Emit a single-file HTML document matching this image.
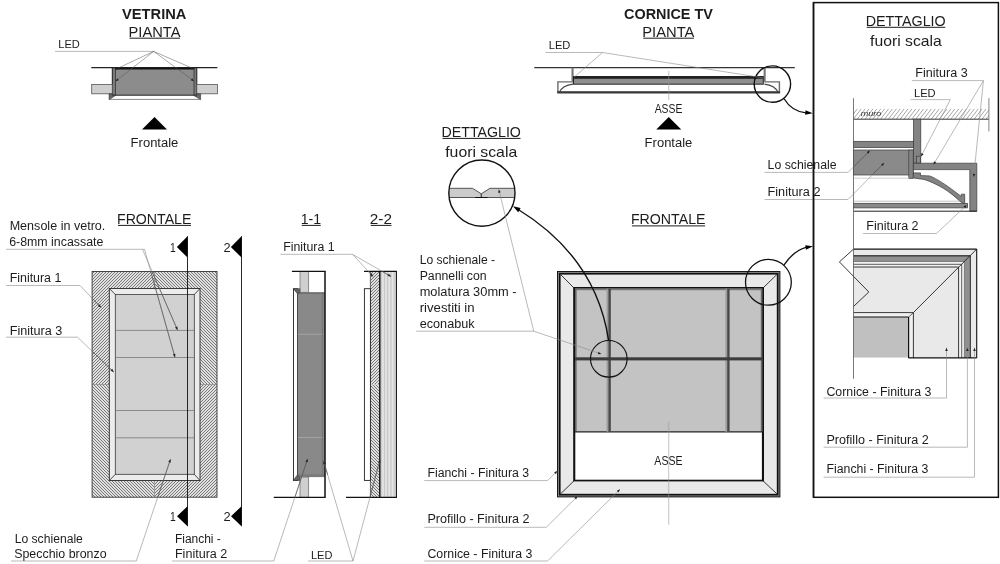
<!DOCTYPE html>
<html><head><meta charset="utf-8"><title>Vetrina / Cornice TV</title>
<style>
html,body{margin:0;padding:0;background:#fff;}
body{width:1000px;height:564px;overflow:hidden;}
svg{display:block;font-family:"Liberation Sans",sans-serif;will-change:transform;filter:grayscale(1);}
</style></head><body>
<svg width="1000" height="564" viewBox="0 0 1000 564">
<defs>
<pattern id="hA" width="3" height="3" patternUnits="userSpaceOnUse"><rect width="3" height="3" fill="#e1e1e1"/><path d="M-1,1 L1,-1 M0,3 L3,0 M2,4 L4,2" stroke="#666" stroke-width="0.85"/></pattern>
<pattern id="hB" width="3" height="3" patternUnits="userSpaceOnUse"><rect width="3" height="3" fill="#e1e1e1"/><path d="M-1,2 L1,4 M0,0 L3,3 M2,-1 L4,1" stroke="#666" stroke-width="0.85"/></pattern>
<pattern id="hW" width="3.4" height="3.4" patternUnits="userSpaceOnUse"><rect width="3.4" height="3.4" fill="#fff"/><path d="M-0.85,0.85 L0.85,-0.85 M0,3.4 L3.4,0 M2.55,4.25 L4.25,2.55" stroke="#555" stroke-width="0.8"/></pattern>
<pattern id="vS" width="3.2" height="4" patternUnits="userSpaceOnUse"><rect width="3.2" height="4" fill="#dcdcdc"/><rect x="0" width="1" height="4" fill="#c6c6c6"/><rect x="1.8" width="0.8" height="4" fill="#ececec"/></pattern>
</defs>
<rect width="1000" height="564" fill="#fff"/>

<text x="122.02" y="19.00" font-size="14" textLength="64.40" lengthAdjust="spacingAndGlyphs" fill="#1c1c1c" font-weight="bold">VETRINA</text>
<text x="128.52" y="36.50" font-size="14" textLength="51.90" lengthAdjust="spacingAndGlyphs" fill="#1c1c1c">PIANTA</text>
<line x1="129.50" y1="38.20" x2="180.00" y2="38.20" stroke="#1c1c1c" stroke-width="1"/>
<text x="58.20" y="47.60" font-size="11.5" textLength="21.65" lengthAdjust="spacingAndGlyphs" fill="#1c1c1c">LED</text>
<rect x="112.30" y="67.70" width="84.50" height="27.50" fill="#8c8c8c"/>
<rect x="112.30" y="67.70" width="3.20" height="27.50" fill="#7a7a7a"/>
<rect x="194.00" y="67.70" width="2.80" height="27.50" fill="#7a7a7a"/>
<line x1="112.30" y1="67.70" x2="112.30" y2="95.20" stroke="#222" stroke-width="1" />
<line x1="196.80" y1="67.70" x2="196.80" y2="95.20" stroke="#222" stroke-width="1" />
<line x1="115.50" y1="68.00" x2="115.50" y2="95.20" stroke="#333" stroke-width="0.8" />
<line x1="194.00" y1="68.00" x2="194.00" y2="95.20" stroke="#333" stroke-width="0.8" />
<line x1="112.30" y1="95.20" x2="196.80" y2="95.20" stroke="#222" stroke-width="1" />
<rect x="91.70" y="84.50" width="20.60" height="9.30" fill="#cfcfcf" stroke="#555" stroke-width="0.8"/>
<rect x="196.80" y="84.50" width="20.60" height="9.30" fill="#cfcfcf" stroke="#555" stroke-width="0.8"/>
<polygon points="109.10,93.80 112.30,93.80 112.30,95.40 115.60,95.40 109.10,99.60" fill="#666" stroke="#333" stroke-width="0.6" stroke-linejoin="miter"/>
<polygon points="200.60,93.80 196.80,93.80 196.80,95.40 193.70,95.40 200.60,99.60" fill="#666" stroke="#333" stroke-width="0.6" stroke-linejoin="miter"/>
<line x1="109.10" y1="99.40" x2="200.60" y2="99.40" stroke="#555" stroke-width="0.7" />
<line x1="91.30" y1="67.70" x2="217.40" y2="67.70" stroke="#222" stroke-width="1.2" />
<line x1="115.00" y1="68.60" x2="194.30" y2="68.60" stroke="#111" stroke-width="1.6" />
<polygon points="154.50,117.00 142.00,129.50 167.00,129.50" fill="#000"/>
<text x="130.62" y="147.00" font-size="12.5" textLength="47.75" lengthAdjust="spacingAndGlyphs" fill="#1c1c1c">Frontale</text>
<text x="117.02" y="223.75" font-size="14" textLength="74.40" lengthAdjust="spacingAndGlyphs" fill="#1c1c1c">FRONTALE</text>
<line x1="118.00" y1="225.40" x2="191.00" y2="225.40" stroke="#1c1c1c" stroke-width="1"/>
<text x="9.66" y="230.00" font-size="12" textLength="95.70" lengthAdjust="spacingAndGlyphs" fill="#1c1c1c">Mensole in vetro.</text>
<text x="9.16" y="245.50" font-size="12" textLength="94.20" lengthAdjust="spacingAndGlyphs" fill="#1c1c1c">6-8mm incassate</text>
<text x="9.66" y="281.75" font-size="12" textLength="51.70" lengthAdjust="spacingAndGlyphs" fill="#1c1c1c">Finitura 1</text>
<text x="9.66" y="334.50" font-size="12" textLength="52.70" lengthAdjust="spacingAndGlyphs" fill="#1c1c1c">Finitura 3</text>
<rect x="92.10" y="271.50" width="62.40" height="113.00" fill="url(#hA)"/>
<rect x="154.50" y="271.50" width="62.50" height="113.00" fill="url(#hB)"/>
<rect x="92.10" y="384.50" width="62.40" height="112.70" fill="url(#hB)"/>
<rect x="154.50" y="384.50" width="62.50" height="112.70" fill="url(#hA)"/>
<line x1="154.50" y1="271.50" x2="154.50" y2="497.20" stroke="#777" stroke-width="0.6" />
<line x1="92.10" y1="384.50" x2="217.00" y2="384.50" stroke="#777" stroke-width="0.6" />
<rect x="92.10" y="271.50" width="124.90" height="225.70" fill="none" stroke="#333" stroke-width="0.9"/>
<rect x="109.30" y="288.50" width="90.70" height="192.00" fill="#ececec" stroke="#2a2a2a" stroke-width="0.9"/>
<rect x="115.30" y="294.50" width="79.00" height="179.80" fill="#d1d1d1" stroke="#3a3a3a" stroke-width="0.8"/>
<line x1="109.30" y1="288.50" x2="115.30" y2="294.50" stroke="#222" stroke-width="0.8" />
<line x1="200.00" y1="288.50" x2="194.30" y2="294.50" stroke="#222" stroke-width="0.8" />
<line x1="109.30" y1="480.50" x2="115.30" y2="474.30" stroke="#222" stroke-width="0.8" />
<line x1="200.00" y1="480.50" x2="194.30" y2="474.30" stroke="#222" stroke-width="0.8" />
<line x1="115.30" y1="330.40" x2="194.30" y2="330.40" stroke="#777" stroke-width="0.8" />
<line x1="115.30" y1="357.50" x2="194.30" y2="357.50" stroke="#777" stroke-width="0.8" />
<line x1="115.30" y1="410.50" x2="194.30" y2="410.50" stroke="#777" stroke-width="0.8" />
<line x1="115.30" y1="437.80" x2="194.30" y2="437.80" stroke="#777" stroke-width="0.8" />
<line x1="187.50" y1="236.20" x2="187.50" y2="526.20" stroke="#111" stroke-width="0.9" />
<polygon points="176.90,246.90 187.50,236.20 187.50,257.60" fill="#000"/>
<polygon points="177.00,516.25 187.50,506.25 187.50,526.25" fill="#000"/>
<text x="169.91" y="251.90" font-size="12" textLength="5.75" lengthAdjust="spacingAndGlyphs" fill="#1c1c1c">1</text>
<text x="169.91" y="520.60" font-size="12" textLength="5.75" lengthAdjust="spacingAndGlyphs" fill="#1c1c1c">1</text>
<line x1="241.50" y1="236.20" x2="241.50" y2="526.20" stroke="#111" stroke-width="0.9" />
<polygon points="230.90,246.90 241.50,236.20 241.50,257.60" fill="#000"/>
<polygon points="231.00,516.25 241.50,506.25 241.50,526.25" fill="#000"/>
<text x="223.41" y="251.90" font-size="12" textLength="7.15" lengthAdjust="spacingAndGlyphs" fill="#1c1c1c">2</text>
<text x="223.41" y="520.60" font-size="12" textLength="7.15" lengthAdjust="spacingAndGlyphs" fill="#1c1c1c">2</text>
<text x="14.66" y="542.50" font-size="12" textLength="68.20" lengthAdjust="spacingAndGlyphs" fill="#1c1c1c">Lo schienale</text>
<text x="14.16" y="558.00" font-size="12" textLength="92.45" lengthAdjust="spacingAndGlyphs" fill="#1c1c1c">Specchio bronzo</text>
<text x="174.91" y="542.50" font-size="12" textLength="45.95" lengthAdjust="spacingAndGlyphs" fill="#1c1c1c">Fianchi -</text>
<text x="174.91" y="558.00" font-size="12" textLength="52.45" lengthAdjust="spacingAndGlyphs" fill="#1c1c1c">Finitura 2</text>
<text x="300.77" y="223.75" font-size="14" textLength="20.40" lengthAdjust="spacingAndGlyphs" fill="#1c1c1c">1-1</text>
<line x1="301.75" y1="225.40" x2="320.75" y2="225.40" stroke="#1c1c1c" stroke-width="1"/>
<text x="369.77" y="223.75" font-size="14" textLength="22.15" lengthAdjust="spacingAndGlyphs" fill="#1c1c1c">2-2</text>
<line x1="370.75" y1="225.40" x2="391.50" y2="225.40" stroke="#1c1c1c" stroke-width="1"/>
<text x="283.16" y="250.75" font-size="12" textLength="51.45" lengthAdjust="spacingAndGlyphs" fill="#1c1c1c">Finitura 1</text>
<rect x="300.00" y="271.50" width="8.70" height="20.80" fill="#cfcfcf" stroke="#666" stroke-width="0.7"/>
<rect x="300.00" y="477.00" width="8.70" height="20.30" fill="#cfcfcf" stroke="#666" stroke-width="0.7"/>
<rect x="293.50" y="288.80" width="4.00" height="191.60" fill="#fff" stroke="#222" stroke-width="0.9"/>
<rect x="297.50" y="292.50" width="27.50" height="182.50" fill="#898989"/>
<rect x="297.50" y="292.30" width="27.50" height="1.50" fill="#6a6a6a"/>
<rect x="297.50" y="474.30" width="27.50" height="2.80" fill="#7a7a7a"/>
<polygon points="293.30,288.70 299.80,288.70 299.80,292.40 297.50,293.80" fill="#666" stroke="#333" stroke-width="0.6" stroke-linejoin="miter"/>
<polygon points="293.30,480.40 299.80,480.40 299.80,477.00 297.50,474.80" fill="#666" stroke="#333" stroke-width="0.6" stroke-linejoin="miter"/>
<line x1="297.50" y1="293.00" x2="297.50" y2="475.00" stroke="#444" stroke-width="0.8" />
<line x1="297.80" y1="334.30" x2="324.00" y2="334.30" stroke="#a8a8a8" stroke-width="0.8" />
<line x1="297.80" y1="437.50" x2="324.00" y2="437.50" stroke="#a8a8a8" stroke-width="0.8" />
<line x1="322.50" y1="292.50" x2="322.50" y2="475.00" stroke="#777" stroke-width="1.2" />
<line x1="325.00" y1="271.30" x2="325.00" y2="497.40" stroke="#111" stroke-width="1.5" />
<line x1="291.90" y1="271.40" x2="325.60" y2="271.40" stroke="#111" stroke-width="1.2" />
<line x1="273.75" y1="497.40" x2="325.60" y2="497.40" stroke="#111" stroke-width="1.2" />
<rect x="370.40" y="271.50" width="8.80" height="113.00" fill="url(#hA)"/>
<rect x="370.40" y="384.50" width="8.80" height="112.80" fill="url(#hB)"/>
<line x1="370.40" y1="271.50" x2="370.40" y2="497.30" stroke="#444" stroke-width="0.8" />
<rect x="380.30" y="271.50" width="16.10" height="225.80" fill="url(#vS)"/>
<rect x="379.00" y="271.50" width="1.60" height="225.80" fill="#222"/>
<line x1="396.40" y1="271.30" x2="396.40" y2="497.40" stroke="#111" stroke-width="1.1" />
<rect x="364.40" y="288.70" width="6.00" height="191.70" fill="#fff" stroke="#222" stroke-width="0.9"/>
<line x1="364.00" y1="271.40" x2="396.90" y2="271.40" stroke="#111" stroke-width="1.2" />
<line x1="346.00" y1="497.40" x2="396.90" y2="497.40" stroke="#111" stroke-width="1.2" />
<text x="310.94" y="558.50" font-size="11.5" textLength="21.40" lengthAdjust="spacingAndGlyphs" fill="#1c1c1c">LED</text>
<text x="441.52" y="136.75" font-size="14" textLength="79.40" lengthAdjust="spacingAndGlyphs" fill="#1c1c1c">DETTAGLIO</text>
<line x1="442.50" y1="138.40" x2="520.50" y2="138.40" stroke="#1c1c1c" stroke-width="1"/>
<text x="445.24" y="156.75" font-size="14.5" textLength="71.95" lengthAdjust="spacingAndGlyphs" fill="#1c1c1c">fuori scala</text>
<clipPath id="cpD"><circle cx="481.9" cy="193.1" r="33.1"/></clipPath>
<g clip-path="url(#cpD)">
<polygon points="440.00,188.30 472.50,188.30 481.25,193.80 490.00,188.30 520.00,188.30 520.00,197.50 440.00,197.50" fill="#cbcbcb" stroke="#444" stroke-width="0.9" stroke-linejoin="miter"/>
<line x1="481.25" y1="193.80" x2="481.25" y2="197.50" stroke="#222" stroke-width="1" />
<line x1="475.00" y1="197.50" x2="487.50" y2="197.50" stroke="#111" stroke-width="1.2" />
</g>
<circle cx="481.9" cy="193.1" r="33.1" fill="none" stroke="#111" stroke-width="1.4"/>
<text x="419.66" y="263.50" font-size="12" textLength="75.40" lengthAdjust="spacingAndGlyphs" fill="#1c1c1c">Lo schienale -</text>
<text x="419.66" y="279.50" font-size="12" textLength="66.95" lengthAdjust="spacingAndGlyphs" fill="#1c1c1c">Pannelli con</text>
<text x="419.66" y="295.60" font-size="12" textLength="96.95" lengthAdjust="spacingAndGlyphs" fill="#1c1c1c">molatura 30mm -</text>
<text x="419.66" y="311.70" font-size="12" textLength="54.95" lengthAdjust="spacingAndGlyphs" fill="#1c1c1c">rivestiti in</text>
<text x="419.66" y="327.60" font-size="12" textLength="54.95" lengthAdjust="spacingAndGlyphs" fill="#1c1c1c">econabuk</text>
<text x="624.02" y="19.00" font-size="14" textLength="88.90" lengthAdjust="spacingAndGlyphs" fill="#1c1c1c" font-weight="bold">CORNICE TV</text>
<text x="642.27" y="36.50" font-size="14" textLength="52.15" lengthAdjust="spacingAndGlyphs" fill="#1c1c1c">PIANTA</text>
<line x1="643.25" y1="38.20" x2="694.00" y2="38.20" stroke="#1c1c1c" stroke-width="1"/>
<text x="548.70" y="48.80" font-size="11.5" textLength="21.65" lengthAdjust="spacingAndGlyphs" fill="#1c1c1c">LED</text>
<line x1="534.25" y1="67.60" x2="794.80" y2="67.60" stroke="#333" stroke-width="1.1" />
<rect x="571.50" y="67.60" width="2.10" height="14.00" fill="#777"/>
<rect x="763.60" y="67.60" width="2.10" height="14.00" fill="#777"/>
<polyline points="573.00,81.90 557.90,81.90 557.90,92.50" fill="none" stroke="#6a6a6a" stroke-width="1.4" stroke-linejoin="miter"/>
<polyline points="764.40,81.90 779.40,81.90 779.40,92.50" fill="none" stroke="#6a6a6a" stroke-width="1.4" stroke-linejoin="miter"/>
<path d="M573,84.2 C566,85 561.5,87.5 559.3,92.5" fill="none" stroke="#4a4a4a" stroke-width="1.3"/>
<path d="M764.4,84.2 C771.4,85 775.9,87.5 778.1,92.5" fill="none" stroke="#4a4a4a" stroke-width="1.3"/>
<rect x="573.00" y="76.00" width="190.80" height="8.70" fill="#222"/>
<rect x="574.00" y="78.80" width="188.80" height="4.90" fill="#8e8e8e"/>
<rect x="557.20" y="91.20" width="222.90" height="2.30" fill="#3a3a3a"/>
<line x1="668.75" y1="70.80" x2="668.75" y2="100.00" stroke="#999" stroke-width="0.6" />
<text x="654.66" y="113.00" font-size="12" textLength="27.70" lengthAdjust="spacingAndGlyphs" fill="#1c1c1c">ASSE</text>
<polygon points="668.75,117.00 656.25,129.50 681.25,129.50" fill="#000"/>
<text x="644.62" y="147.00" font-size="12.5" textLength="47.75" lengthAdjust="spacingAndGlyphs" fill="#1c1c1c">Frontale</text>
<circle cx="772.4" cy="84.1" r="18.2" fill="none" stroke="#111" stroke-width="1.4"/>
<path d="M783.9,98.5 C789,107 797,112 806,112.8" fill="none" stroke="#111" stroke-width="1.3"/>
<polygon points="812.80,113.20 805.13,114.85 805.52,110.27" fill="#000"/>
<text x="630.92" y="224.20" font-size="14" textLength="74.60" lengthAdjust="spacingAndGlyphs" fill="#1c1c1c">FRONTALE</text>
<line x1="631.90" y1="225.90" x2="705.10" y2="225.90" stroke="#1c1c1c" stroke-width="1"/>
<rect x="557.00" y="271.00" width="223.40" height="226.40" fill="#1a1a1a"/>
<rect x="558.00" y="272.00" width="221.40" height="224.40" fill="#808080"/>
<rect x="559.00" y="273.00" width="219.40" height="222.40" fill="#111"/>
<rect x="560.60" y="274.60" width="216.20" height="219.20" fill="#e9e9e9"/>
<line x1="560.60" y1="274.60" x2="574.00" y2="288.00" stroke="#222" stroke-width="0.9" />
<line x1="776.80" y1="274.60" x2="763.00" y2="288.00" stroke="#222" stroke-width="0.9" />
<line x1="560.60" y1="493.80" x2="574.00" y2="480.80" stroke="#222" stroke-width="0.9" />
<line x1="776.80" y1="493.80" x2="763.00" y2="480.80" stroke="#222" stroke-width="0.9" />
<rect x="573.20" y="287.00" width="190.80" height="194.40" fill="#111"/>
<rect x="575.30" y="288.80" width="186.60" height="190.90" fill="#fff"/>
<rect x="575.00" y="288.80" width="187.20" height="143.00" fill="#c3c3c3"/>
<rect x="575.00" y="288.80" width="187.20" height="1.40" fill="#777"/>
<rect x="575.00" y="288.80" width="1.60" height="143.00" fill="#666"/>
<rect x="760.80" y="288.80" width="1.40" height="143.00" fill="#666"/>
<line x1="575.00" y1="431.80" x2="762.20" y2="431.80" stroke="#222" stroke-width="1.2" />
<rect x="606.60" y="288.80" width="1.80" height="143.00" fill="#9c9c9c"/>
<rect x="608.40" y="288.80" width="2.40" height="143.00" fill="#484848"/>
<rect x="725.40" y="288.80" width="1.80" height="143.00" fill="#9c9c9c"/>
<rect x="727.20" y="288.80" width="2.40" height="143.00" fill="#484848"/>
<rect x="575.00" y="357.30" width="187.20" height="3.10" fill="#3c3c3c"/>
<line x1="668.75" y1="422.00" x2="668.75" y2="524.80" stroke="#999" stroke-width="0.6" />
<text x="654.36" y="464.50" font-size="12" textLength="28.20" lengthAdjust="spacingAndGlyphs" fill="#1c1c1c">ASSE</text>
<circle cx="608.8" cy="358.8" r="18.3" fill="none" stroke="#111" stroke-width="1.1"/>
<circle cx="768.4" cy="282.3" r="22.9" fill="none" stroke="#111" stroke-width="1.3"/>
<path d="M783.9,265.2 C790,256 798,249.5 806,247.3" fill="none" stroke="#111" stroke-width="1.3"/>
<polygon points="813.00,246.20 806.00,249.73 805.22,245.20" fill="#000"/>
<text x="427.41" y="477.25" font-size="12" textLength="101.70" lengthAdjust="spacingAndGlyphs" fill="#1c1c1c">Fianchi - Finitura 3</text>
<text x="427.41" y="523.00" font-size="12" textLength="102.20" lengthAdjust="spacingAndGlyphs" fill="#1c1c1c">Profillo - Finitura 2</text>
<text x="427.41" y="558.00" font-size="12" textLength="104.95" lengthAdjust="spacingAndGlyphs" fill="#1c1c1c">Cornice - Finitura 3</text>
<rect x="813.50" y="2.60" width="184.90" height="494.70" fill="#fff" stroke="#111" stroke-width="1.5"/>
<text x="865.72" y="25.65" font-size="14" textLength="80.00" lengthAdjust="spacingAndGlyphs" fill="#1c1c1c">DETTAGLIO</text>
<line x1="866.70" y1="27.30" x2="945.30" y2="27.30" stroke="#1c1c1c" stroke-width="1"/>
<text x="870.09" y="45.70" font-size="14.5" textLength="71.65" lengthAdjust="spacingAndGlyphs" fill="#1c1c1c">fuori scala</text>
<text x="915.36" y="77.20" font-size="12" textLength="52.30" lengthAdjust="spacingAndGlyphs" fill="#1c1c1c">Finitura 3</text>
<text x="914.00" y="96.60" font-size="11.5" textLength="21.65" lengthAdjust="spacingAndGlyphs" fill="#1c1c1c">LED</text>
<clipPath id="hc1"><rect x="853.5" y="108.8" width="135.40" height="10.40"/></clipPath>
<rect x="853.50" y="108.80" width="135.40" height="10.40" fill="#fff"/>
<path clip-path="url(#hc1)" d="M845.50,119.2l8.00,-10.40M849.40,119.2l8.00,-10.40M853.30,119.2l8.00,-10.40M857.20,119.2l8.00,-10.40M861.10,119.2l8.00,-10.40M865.00,119.2l8.00,-10.40M868.90,119.2l8.00,-10.40M872.80,119.2l8.00,-10.40M876.70,119.2l8.00,-10.40M880.60,119.2l8.00,-10.40M884.50,119.2l8.00,-10.40M888.40,119.2l8.00,-10.40M892.30,119.2l8.00,-10.40M896.20,119.2l8.00,-10.40M900.10,119.2l8.00,-10.40M904.00,119.2l8.00,-10.40M907.90,119.2l8.00,-10.40M911.80,119.2l8.00,-10.40M915.70,119.2l8.00,-10.40M919.60,119.2l8.00,-10.40M923.50,119.2l8.00,-10.40M927.40,119.2l8.00,-10.40M931.30,119.2l8.00,-10.40M935.20,119.2l8.00,-10.40M939.10,119.2l8.00,-10.40M943.00,119.2l8.00,-10.40M946.90,119.2l8.00,-10.40M950.80,119.2l8.00,-10.40M954.70,119.2l8.00,-10.40M958.60,119.2l8.00,-10.40M962.50,119.2l8.00,-10.40M966.40,119.2l8.00,-10.40M970.30,119.2l8.00,-10.40M974.20,119.2l8.00,-10.40M978.10,119.2l8.00,-10.40M982.00,119.2l8.00,-10.40M985.90,119.2l8.00,-10.40M989.80,119.2l8.00,-10.40" stroke="#777" stroke-width="0.65" fill="none"/>
<line x1="853.50" y1="119.20" x2="988.90" y2="119.20" stroke="#333" stroke-width="1" />
<line x1="988.90" y1="98.20" x2="988.90" y2="131.40" stroke="#666" stroke-width="0.8" />
<text x="860.65" y="115.90" font-size="7.8" textLength="20.58" lengthAdjust="spacingAndGlyphs" fill="#333" font-style="italic">muro</text>
<rect x="913.40" y="119.20" width="7.40" height="44.00" fill="#838383" stroke="#3a3a3a" stroke-width="0.7"/>
<rect x="853.50" y="141.30" width="59.90" height="6.30" fill="#838383" stroke="#3a3a3a" stroke-width="0.7"/>
<rect x="853.50" y="150.00" width="59.70" height="25.00" fill="#8a8a8a" stroke="#3a3a3a" stroke-width="0.7"/>
<rect x="908.80" y="150.00" width="4.40" height="28.50" fill="#838383" stroke="#3a3a3a" stroke-width="0.6"/>
<rect x="916.60" y="156.20" width="3.70" height="7.00" fill="#8c8c8c" stroke="#3a3a3a" stroke-width="0.7"/>
<polygon points="913.40,163.20 976.80,163.20 976.80,211.30 969.80,211.30 969.80,169.60 913.40,169.60" fill="#838383" stroke="#3a3a3a" stroke-width="0.7" stroke-linejoin="miter"/>
<path d="M913.4,172.9 L920.5,172.9 L920.5,175.6 L929.5,175.9 C936,178 948,186 961.3,196.5 L961.3,194.2 L964.7,194.2 L964.7,204.3 L959.8,201.2 C950,191.5 938,184 924,179.4 L913.4,178 Z" fill="#838383" stroke="#3a3a3a" stroke-width="0.7"/>
<line x1="853.50" y1="178.20" x2="908.80" y2="178.20" stroke="#bbb" stroke-width="0.7" />
<line x1="853.50" y1="201.20" x2="960.00" y2="201.20" stroke="#aaa" stroke-width="0.7" />
<rect x="853.50" y="203.30" width="114.00" height="4.60" fill="#8a8a8a" stroke="#3a3a3a" stroke-width="0.7"/>
<line x1="853.50" y1="211.20" x2="976.80" y2="211.20" stroke="#222" stroke-width="1" />
<text x="767.56" y="169.20" font-size="12" textLength="69.00" lengthAdjust="spacingAndGlyphs" fill="#1c1c1c">Lo schienale</text>
<text x="767.56" y="196.00" font-size="12" textLength="52.90" lengthAdjust="spacingAndGlyphs" fill="#1c1c1c">Finitura 2</text>
<text x="866.36" y="230.30" font-size="12" textLength="52.20" lengthAdjust="spacingAndGlyphs" fill="#1c1c1c">Finitura 2</text>
<polygon points="853.50,249.10 976.70,249.10 976.70,357.90 913.40,357.90 913.40,312.60 853.50,312.60" fill="#e9e9e9"/>
<polygon points="853.50,256.60 969.50,256.60 969.50,357.90 964.40,357.90 964.40,261.50 853.50,261.50" fill="#909090"/>
<polygon points="853.50,261.50 964.40,261.50 964.40,357.90 958.50,357.90 958.50,267.00 853.50,267.00" fill="#f4f4f4"/>
<polyline points="853.5,255.9 970.2,255.9 970.2,357.9" fill="none" stroke="#111" stroke-width="1.1"/>
<polyline points="853.5,261.5 964.4,261.5 964.4,357.9" fill="none" stroke="#555" stroke-width="0.7"/>
<polyline points="853.5,264.3 961.7,264.3 961.7,357.9" fill="none" stroke="#333" stroke-width="0.8"/>
<polyline points="853.5,267 958.6,267 958.6,357.9" fill="none" stroke="#222" stroke-width="0.9"/>
<line x1="976.70" y1="249.10" x2="913.40" y2="312.60" stroke="#222" stroke-width="0.9" />
<rect x="853.50" y="312.60" width="59.90" height="45.30" fill="#f0f0f0"/>
<rect x="853.50" y="317.00" width="55.10" height="40.40" fill="#c0c0c0"/>
<line x1="853.50" y1="312.60" x2="913.40" y2="312.60" stroke="#222" stroke-width="0.9" />
<line x1="853.50" y1="317.00" x2="908.60" y2="317.00" stroke="#111" stroke-width="1.2" />
<line x1="908.60" y1="317.00" x2="908.60" y2="357.90" stroke="#111" stroke-width="1.2" />
<line x1="913.40" y1="312.60" x2="913.40" y2="357.90" stroke="#222" stroke-width="0.9" />
<line x1="913.40" y1="312.60" x2="908.60" y2="317.00" stroke="#222" stroke-width="0.7" />
<line x1="908.60" y1="357.90" x2="976.70" y2="357.90" stroke="#111" stroke-width="1.2" />
<line x1="853.50" y1="249.10" x2="976.70" y2="249.10" stroke="#111" stroke-width="1.4" />
<line x1="976.70" y1="249.10" x2="976.70" y2="357.90" stroke="#111" stroke-width="1.1" />
<polyline points="853.50,249.10 839.40,261.90 868.80,292.00 853.50,306.50" fill="none" stroke="#222" stroke-width="0.9" stroke-linejoin="miter"/>
<line x1="853.50" y1="98.20" x2="853.50" y2="378.80" stroke="#555" stroke-width="0.8" />
<text x="826.46" y="395.60" font-size="12" textLength="104.90" lengthAdjust="spacingAndGlyphs" fill="#1c1c1c">Cornice - Finitura 3</text>
<text x="826.46" y="443.90" font-size="12" textLength="102.20" lengthAdjust="spacingAndGlyphs" fill="#1c1c1c">Profillo - Finitura 2</text>
<text x="826.46" y="473.00" font-size="12" textLength="101.90" lengthAdjust="spacingAndGlyphs" fill="#1c1c1c">Fianchi - Finitura 3</text>
<polyline points="55.00,51.40 153.70,51.40" fill="none" stroke="#8a8a8a" stroke-width="0.6"/>
<polyline points="153.70,51.40 115.50,81.20" fill="none" stroke="#555" stroke-width="0.5"/>
<polygon points="115.50,81.20 117.22,78.21 118.82,80.26" fill="#222"/>
<polyline points="153.70,51.40 115.10,69.50" fill="none" stroke="#555" stroke-width="0.5"/>
<polygon points="115.10,69.50 117.45,66.96 118.55,69.32" fill="#222"/>
<polyline points="153.70,51.40 194.00,81.20" fill="none" stroke="#555" stroke-width="0.5"/>
<polygon points="194.00,81.20 190.65,80.34 192.20,78.25" fill="#222"/>
<polyline points="153.70,51.40 194.30,69.10" fill="none" stroke="#555" stroke-width="0.5"/>
<polygon points="194.30,69.10 190.85,69.01 191.89,66.63" fill="#222"/>
<polyline points="6.00,249.30 142.50,249.30 177.50,330.00" fill="none" stroke="#8a8a8a" stroke-width="0.6"/>
<line x1="152.12" y1="271.49" x2="177.50" y2="330.00" stroke="#3c3c3c" stroke-width="0.55"/>
<polygon points="177.50,330.00 175.03,327.58 177.42,326.55" fill="#222"/>
<polyline points="142.50,249.30 144.50,249.30 175.00,357.30" fill="none" stroke="#8a8a8a" stroke-width="0.6"/>
<line x1="150.75" y1="271.44" x2="175.00" y2="357.30" stroke="#3c3c3c" stroke-width="0.55"/>
<polygon points="175.00,357.30 172.88,354.57 175.38,353.87" fill="#222"/>
<polyline points="6.00,285.50 80.00,285.50 101.00,307.50" fill="none" stroke="#8a8a8a" stroke-width="0.6"/>
<line x1="92.18" y1="298.26" x2="101.00" y2="307.50" stroke="#3c3c3c" stroke-width="0.55"/>
<polygon points="101.00,307.50 97.85,306.08 99.73,304.29" fill="#222"/>
<polyline points="6.00,337.20 77.50,337.20 113.75,372.00" fill="none" stroke="#8a8a8a" stroke-width="0.6"/>
<line x1="92.00" y1="351.12" x2="113.75" y2="372.00" stroke="#3c3c3c" stroke-width="0.55"/>
<polygon points="113.75,372.00 110.54,370.72 112.34,368.85" fill="#222"/>
<polyline points="11.00,561.00 136.25,561.00 170.50,459.25" fill="none" stroke="#8a8a8a" stroke-width="0.6"/>
<line x1="157.72" y1="497.20" x2="170.50" y2="459.25" stroke="#3c3c3c" stroke-width="0.55"/>
<polygon points="170.50,459.25 170.71,462.70 168.25,461.87" fill="#222"/>
<polyline points="172.00,561.00 273.75,561.00 307.60,458.90" fill="none" stroke="#8a8a8a" stroke-width="0.6"/>
<line x1="294.74" y1="497.70" x2="307.60" y2="458.90" stroke="#3c3c3c" stroke-width="0.55"/>
<polygon points="307.60,458.90 307.83,462.35 305.36,461.53" fill="#222"/>
<polyline points="280.50,254.30 352.50,254.30 373.00,276.50" fill="none" stroke="#8a8a8a" stroke-width="0.6"/>
<line x1="368.49" y1="271.62" x2="373.00" y2="276.50" stroke="#3c3c3c" stroke-width="0.55"/>
<polygon points="373.00,276.50 369.87,275.03 371.78,273.27" fill="#222"/>
<polyline points="352.50,254.30 391.00,276.50" fill="none" stroke="#8a8a8a" stroke-width="0.6"/>
<line x1="382.53" y1="271.62" x2="391.00" y2="276.50" stroke="#3c3c3c" stroke-width="0.55"/>
<polygon points="391.00,276.50 387.58,276.03 388.88,273.78" fill="#222"/>
<polyline points="308.00,561.00 353.00,561.00 323.60,461.00" fill="none" stroke="#8a8a8a" stroke-width="0.6"/>
<line x1="327.72" y1="475.00" x2="323.60" y2="461.00" stroke="#3c3c3c" stroke-width="0.55"/>
<polygon points="323.60,461.00 325.75,463.70 323.26,464.44" fill="#222"/>
<polyline points="353.00,561.00 380.00,459.60" fill="none" stroke="#8a8a8a" stroke-width="0.6"/>
<line x1="370.01" y1="497.12" x2="380.00" y2="459.60" stroke="#3c3c3c" stroke-width="0.55"/>
<polygon points="380.00,459.60 380.43,463.03 377.92,462.36" fill="#222"/>
<path d="M608.6,340.4 C598.1,270.4 555.5,232.3 517.5,209" fill="none" stroke="#111" stroke-width="1.4"/>
<polygon points="513.00,206.25 520.67,208.05 518.20,212.17" fill="#000"/>
<polyline points="416.25,331.20 533.75,331.20 601.20,354.00" fill="none" stroke="#8a8a8a" stroke-width="0.6"/>
<polygon points="601.20,354.00 597.75,354.21 598.58,351.74" fill="#222"/>
<polyline points="533.75,331.20 498.75,189.50" fill="none" stroke="#8a8a8a" stroke-width="0.6"/>
<polygon points="498.75,189.50 500.78,192.29 498.26,192.92" fill="#222"/>
<polyline points="545.50,52.50 602.50,52.50 574.00,77.30" fill="none" stroke="#8a8a8a" stroke-width="0.6"/>
<polyline points="602.50,52.50 763.00,77.80" fill="none" stroke="#8a8a8a" stroke-width="0.6"/>
<polyline points="424.25,480.60 547.50,480.60 557.30,471.00" fill="none" stroke="#8a8a8a" stroke-width="0.6"/>
<polygon points="557.30,471.00 555.92,474.17 554.10,472.31" fill="#222"/>
<polyline points="424.25,527.30 546.25,527.30 577.50,496.30" fill="none" stroke="#8a8a8a" stroke-width="0.6"/>
<polygon points="577.50,496.30 576.14,499.48 574.31,497.63" fill="#222"/>
<polyline points="424.25,561.00 547.50,561.00 620.00,489.30" fill="none" stroke="#8a8a8a" stroke-width="0.6"/>
<polygon points="620.00,489.30 618.64,492.47 616.81,490.63" fill="#222"/>
<polyline points="764.60,172.40 848.00,172.40 869.90,150.60" fill="none" stroke="#8a8a8a" stroke-width="0.6"/>
<line x1="853.48" y1="166.95" x2="869.90" y2="150.60" stroke="#3c3c3c" stroke-width="0.55"/>
<polygon points="869.90,150.60 868.55,153.78 866.71,151.94" fill="#222"/>
<polyline points="764.60,199.50 848.00,199.50 884.20,162.90" fill="none" stroke="#8a8a8a" stroke-width="0.6"/>
<line x1="872.25" y1="174.98" x2="884.20" y2="162.90" stroke="#3c3c3c" stroke-width="0.55"/>
<polygon points="884.20,162.90 882.87,166.09 881.03,164.26" fill="#222"/>
<polyline points="862.80,233.50 936.50,233.50 966.70,205.00" fill="none" stroke="#8a8a8a" stroke-width="0.6"/>
<polygon points="966.70,205.00 965.26,208.14 963.48,206.25" fill="#222"/>
<polyline points="911.80,80.60 983.40,80.60 933.40,164.70" fill="none" stroke="#8a8a8a" stroke-width="0.6"/>
<polygon points="933.40,164.70 933.92,161.29 936.15,162.61" fill="#222"/>
<polyline points="983.40,80.60 973.70,177.10" fill="none" stroke="#8a8a8a" stroke-width="0.6"/>
<polygon points="973.70,177.10 972.73,173.79 975.31,174.05" fill="#222"/>
<polyline points="910.60,99.60 950.30,99.60 921.00,156.40" fill="none" stroke="#8a8a8a" stroke-width="0.6"/>
<polygon points="921.00,156.40 921.31,152.96 923.62,154.15" fill="#222"/>
<polyline points="823.60,398.00 946.50,398.00 946.50,347.70" fill="none" stroke="#8a8a8a" stroke-width="0.6"/>
<polygon points="946.50,347.70 947.80,350.90 945.20,350.90" fill="#222"/>
<polyline points="823.60,447.20 967.40,447.20 967.40,347.70" fill="none" stroke="#8a8a8a" stroke-width="0.6"/>
<polygon points="967.40,347.70 968.70,350.90 966.10,350.90" fill="#222"/>
<polyline points="823.60,477.20 974.50,477.20 974.50,347.70" fill="none" stroke="#8a8a8a" stroke-width="0.6"/>
<polygon points="974.50,347.70 975.80,350.90 973.20,350.90" fill="#222"/>
<line x1="813.50" y1="2.60" x2="813.50" y2="497.30" stroke="#111" stroke-width="1.5" />
</svg></body></html>
